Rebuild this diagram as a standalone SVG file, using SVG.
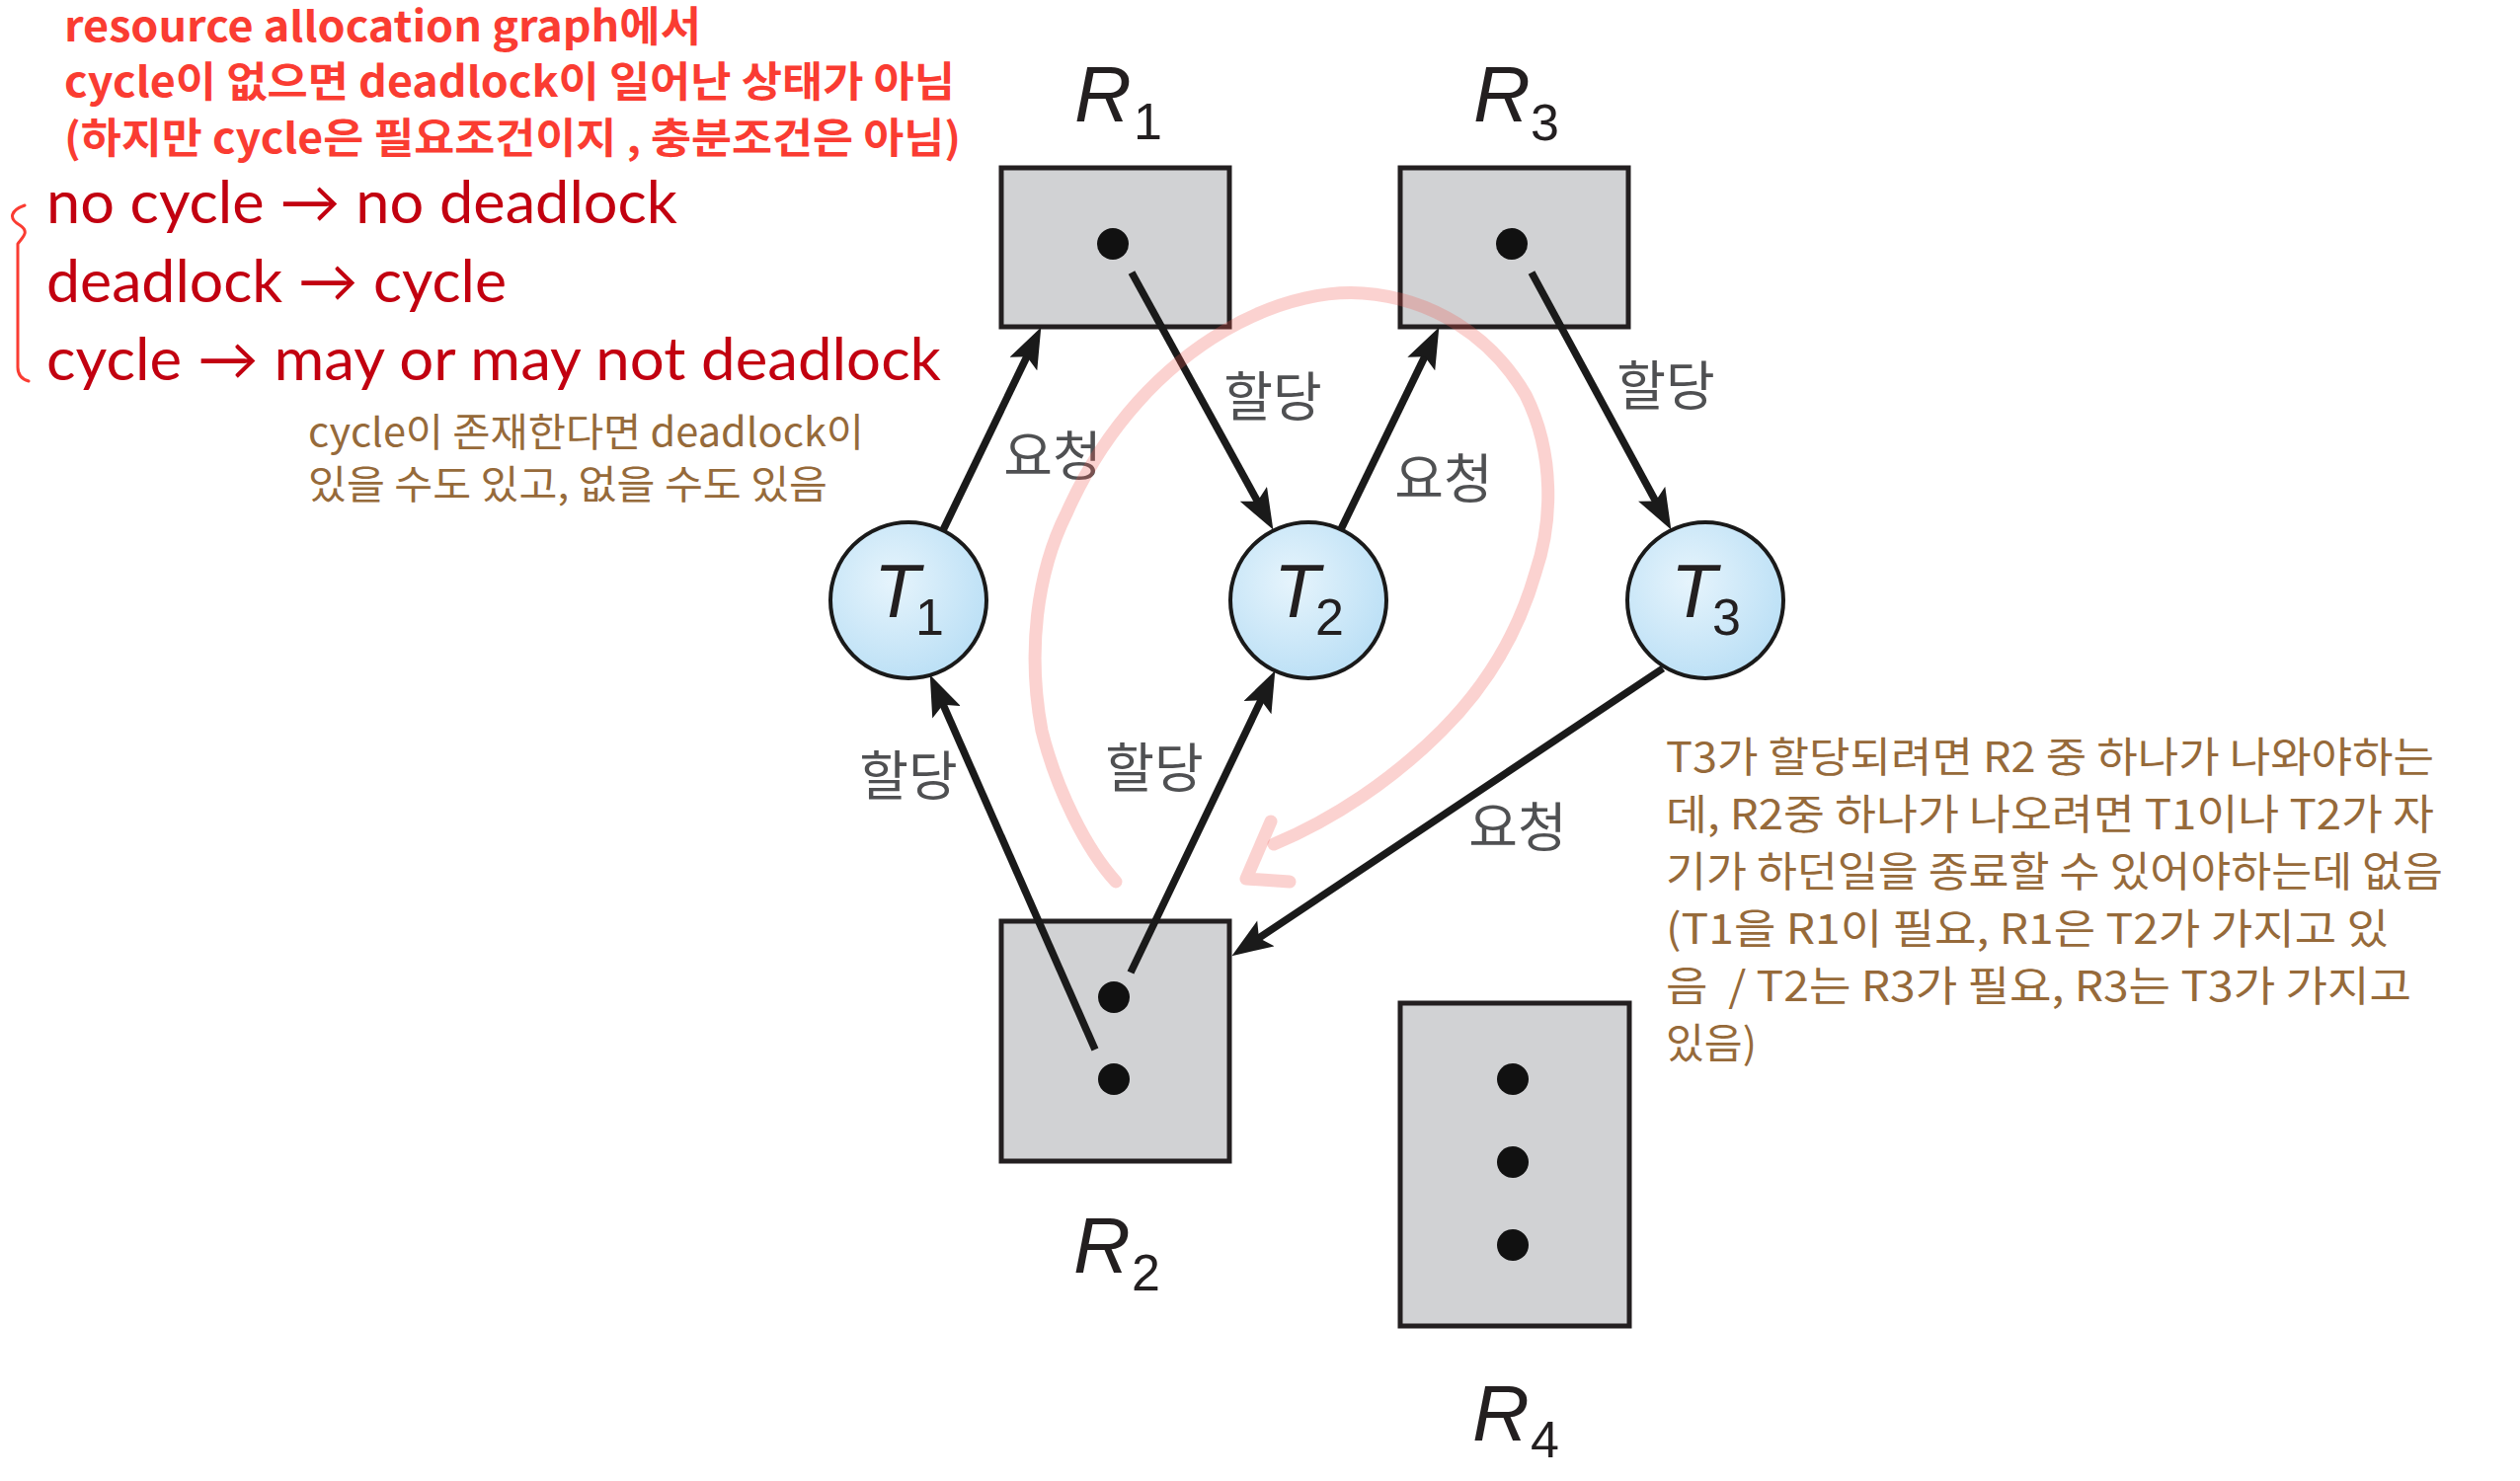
<svg xmlns="http://www.w3.org/2000/svg" width="2552" height="1500" viewBox="0 0 2552 1500">
<defs>
<radialGradient id="tg" cx="40%" cy="38%" r="70%">
<stop offset="0" stop-color="#e6f4fc"/>
<stop offset="1" stop-color="#b8def5"/>
</radialGradient>
<marker id="ah" viewBox="0 0 40 30" refX="20" refY="15" markerWidth="42" markerHeight="31" markerUnits="userSpaceOnUse" orient="auto">
<path d="M0,0 L40,15 L0,30 L8,15 z" fill="#1a1a1a"/>
</marker>
</defs>
<style>
.box{fill:#d1d2d4;stroke:#231f20;stroke-width:5}
.dot{fill:#111}
.proc{fill:url(#tg);stroke:#1a1a1a;stroke-width:4}
.lbl{font-family:"Liberation Sans",Arial,sans-serif;font-style:italic;fill:#231f20;font-size:80px}
.sub{font-style:normal;font-size:52px}
.edge{stroke:#1a1a1a;stroke-width:7.5;fill:none;marker-end:url(#ah)}
.hw{font-family:"Noto Sans CJK KR","Noto Sans",sans-serif;fill:#4f5052;font-size:54px;text-anchor:middle}
.rb{font-family:"Noto Sans CJK KR","Noto Sans",sans-serif;font-weight:bold;fill:#fa3c32;font-size:42px}
.rd{font-family:Lato,"Noto Sans",sans-serif;fill:#c20010;font-size:60px}
.br{font-family:"Noto Sans CJK KR","Noto Sans",sans-serif;fill:#966a3a;font-size:40px;white-space:pre}
.loop{fill:none;stroke:#f05a50;stroke-opacity:0.27;stroke-width:13;stroke-linecap:round;stroke-linejoin:round}
</style>

<g id="notes">
<text class="rb" x="65" y="42" textLength="645" lengthAdjust="spacingAndGlyphs">resource allocation graph에서</text>
<text class="rb" x="65" y="98" textLength="902" lengthAdjust="spacingAndGlyphs">cycle이 없으면 deadlock이 일어난 상태가 아님</text>
<text class="rb" x="65" y="155" textLength="908" lengthAdjust="spacingAndGlyphs">(하지만 cycle은 필요조건이지 , 충분조건은 아님)</text>
<path d="M25,208 C11,213 8,221 20,228 C31,235 22,241 18,247 L18,372 C18,380 22,384 29,386" fill="none" stroke="#fa3c32" stroke-width="3" stroke-linecap="round"/>
<text class="rd" x="47" y="226" textLength="639" lengthAdjust="spacingAndGlyphs">no cycle → no deadlock</text>
<text class="rd" x="47" y="306" textLength="466" lengthAdjust="spacingAndGlyphs">deadlock → cycle</text>
<text class="rd" x="47" y="385" textLength="906" lengthAdjust="spacingAndGlyphs">cycle → may or may not deadlock</text>
<text class="br" x="312" y="452" textLength="563" lengthAdjust="spacingAndGlyphs">cycle이 존재한다면 deadlock이</text>
<text class="br" x="312" y="505" textLength="526" lengthAdjust="spacingAndGlyphs">있을 수도 있고, 없을 수도 있음</text>
<text class="br" style="font-size:42px" x="1687" y="782" textLength="778" lengthAdjust="spacingAndGlyphs">T3가 할당되려면 R2 중 하나가 나와야하는</text>
<text class="br" style="font-size:42px" x="1687" y="840" textLength="778" lengthAdjust="spacingAndGlyphs">데, R2중 하나가 나오려면 T1이나 T2가 자</text>
<text class="br" style="font-size:42px" x="1687" y="898" textLength="787" lengthAdjust="spacingAndGlyphs">기가 하던일을 종료할 수 있어야하는데 없음</text>
<text class="br" style="font-size:42px" x="1687" y="956" textLength="732" lengthAdjust="spacingAndGlyphs">(T1을 R1이 필요, R1은 T2가 가지고 있</text>
<text class="br" style="font-size:42px" x="1687" y="1014" textLength="755" lengthAdjust="spacingAndGlyphs">음  / T2는 R3가 필요, R3는 T3가 가지고</text>
<text class="br" style="font-size:42px" x="1687" y="1072" textLength="92" lengthAdjust="spacingAndGlyphs">있음)</text>
</g>

<g id="R1">
<rect class="box" x="1014" y="170" width="231" height="161"/>
<circle class="dot" cx="1127" cy="247" r="16"/>
<text class="lbl" x="1088" y="123">R<tspan class="sub" x="1148" y="141">1</tspan></text>
</g>
<g id="R3">
<rect class="box" x="1418" y="170" width="231" height="161"/>
<circle class="dot" cx="1531" cy="247" r="16"/>
<text class="lbl" x="1492" y="123">R<tspan class="sub" x="1550" y="142">3</tspan></text>
</g>
<g id="R2">
<rect class="box" x="1014" y="933" width="231" height="243"/>
<circle class="dot" cx="1128" cy="1010" r="16"/>
<circle class="dot" cx="1128" cy="1093" r="16"/>
<text class="lbl" x="1087" y="1289">R<tspan class="sub" x="1146" y="1307">2</tspan></text>
</g>
<g id="R4">
<rect class="box" x="1418" y="1016" width="232" height="327"/>
<circle class="dot" cx="1532" cy="1093" r="16"/>
<circle class="dot" cx="1532" cy="1177" r="16"/>
<circle class="dot" cx="1532" cy="1261" r="16"/>
<text class="lbl" x="1491" y="1459">R<tspan class="sub" x="1550" y="1476">4</tspan></text>
</g>
<g id="T1">
<circle class="proc" cx="920" cy="608" r="79"/>
<text class="lbl" style="font-size:76px" x="885" y="625">T<tspan class="sub" x="927" y="643">1</tspan></text>
</g>
<g id="T2">
<circle class="proc" cx="1325" cy="608" r="79"/>
<text class="lbl" style="font-size:76px" x="1290" y="625">T<tspan class="sub" x="1332" y="643">2</tspan></text>
</g>
<g id="T3">
<circle class="proc" cx="1727" cy="608" r="79"/>
<text class="lbl" style="font-size:76px" x="1692" y="625">T<tspan class="sub" x="1734" y="643">3</tspan></text>
</g>

<g id="connectors">
<line class="edge" x1="955" y1="537" x2="1045.3" y2="350"/>
<line class="edge" x1="1146" y1="276" x2="1279.4" y2="518.5"/>
<line class="edge" x1="1358" y1="536" x2="1448.3" y2="350"/>
<line class="edge" x1="1551" y1="276" x2="1682.5" y2="518.4"/>
<line class="edge" x1="1109" y1="1063" x2="950.1" y2="702.3"/>
<line class="edge" x1="1145" y1="985" x2="1282.4" y2="698"/>
<line class="edge" x1="1684" y1="677" x2="1264.6" y2="956.9"/>
</g>

<g id="edge-labels">
<text class="hw" x="1066" y="482">요청</text>
<text class="hw" x="1289" y="422">할당</text>
<text class="hw" x="1462" y="505">요청</text>
<text class="hw" x="1687" y="411">할당</text>
<text class="hw" x="920" y="806">할당</text>
<text class="hw" x="1169" y="798">할당</text>
<text class="hw" x="1537" y="858">요청</text>
</g>

<g id="cycle-mark">
<path class="loop" d="M1130,893 C1100,860 1070,800 1055,740 C1040,660 1050,580 1080,520 C1120,430 1180,370 1240,335 C1300,300 1350,295 1380,297 C1450,302 1510,340 1545,400 C1575,460 1572,530 1555,580 C1535,650 1500,700 1460,740 C1410,790 1350,830 1290,855"/>
<path class="loop" d="M1287,832 L1262,890 L1306,893"/>
</g>
</svg>
